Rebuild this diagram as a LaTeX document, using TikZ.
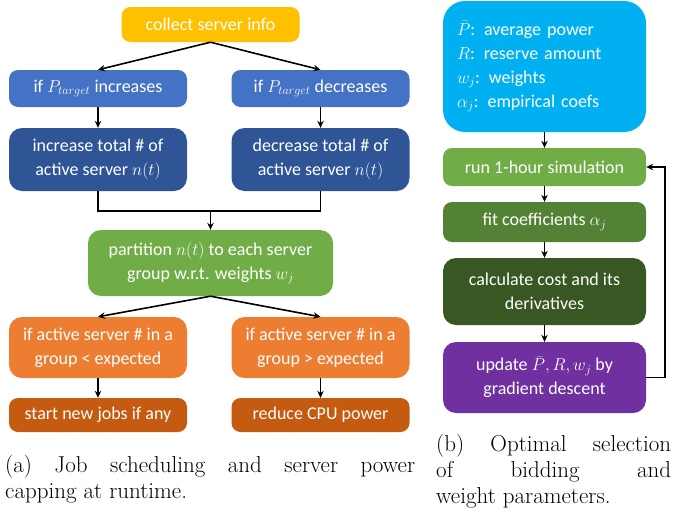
\documentclass[tikz,border=0pt]{standalone}
\usepackage{fontspec}
\newfontfamily\boxfont{Carlito}
\usetikzlibrary{arrows.meta}

\definecolor{infoyellow}{HTML}{FFC000}
\definecolor{ifblue}{HTML}{4472C4}
\definecolor{actblue}{HTML}{2F5597}
\definecolor{partgreen}{HTML}{70AD47}
\definecolor{grporange}{HTML}{ED7D31}
\definecolor{actorange}{HTML}{C55A11}
\definecolor{parmblue}{HTML}{00B0F0}
\definecolor{fitgreen}{HTML}{548235}
\definecolor{costgreen}{HTML}{385723}
\definecolor{updpurple}{HTML}{7030A0}

\begin{document}
\begin{tikzpicture}[x=1pt,y=-1pt,>={Stealth[length=7pt,width=6.5pt]},
  box/.style={rounded corners=9pt, text=white, align=center, inner sep=0pt,
    font=\boxfont\fontsize{18}{24}\selectfont, minimum width=178pt},
  link/.style={draw,line width=1.6pt},
  capt/.style={anchor=north west, inner sep=0pt, align=justify, font=\fontsize{23}{26}\selectfont}]
\useasboundingbox (0,0) rectangle (673,515);

% (a) job scheduling at runtime
\node[box, fill=infoyellow, minimum height=35pt] (collect) at (210.5,24.5) {collect server info};
\node[box, fill=ifblue, minimum height=37pt] (inc) at (98,88.5) {if $P_{target}$ increases};
\node[box, fill=ifblue, minimum height=37pt] (dec) at (320.5,88.5) {if $P_{target}$ decreases};
\node[box, fill=actblue, minimum height=63pt, rounded corners=13pt] (incn) at (98,159.5) {increase total \# of\\active server $n(t)$};
\node[box, fill=actblue, minimum height=63pt, rounded corners=13pt] (decn) at (320.5,159.5) {decrease total \# of\\active server $n(t)$};
\coordinate (join) at (210.5,211);
\node[box, fill=partgreen, minimum width=245pt, minimum height=66pt, rounded corners=13pt] (part) at (210.5,263) {partition $n(t)$ to each server\\group w.r.t. weights $w_j$};
\node[box, fill=grporange, minimum height=61pt, rounded corners=13pt] (lt) at (98,347.5) {if active server \# in a\\group < expected};
\node[box, fill=grporange, minimum height=61pt, rounded corners=13pt] (gt) at (320.5,347.5) {if active server \# in a\\group > expected};
\node[box, fill=actorange, minimum height=34pt] (start) at (98,415) {start new jobs if any};
\node[box, fill=actorange, minimum height=34pt] (reduce) at (320.5,415) {reduce CPU power};

\path[link,->] (collect.south) -- (inc.north);
\path[link,->] (collect.south) -- (dec.north);
\path[link,->] (inc) -- (incn);
\path[link,->] (dec) -- (decn);
\path[link] (incn.south) |- (join) -| (decn.south);
\path[link,->] (join) -- (part.north);
\path[link,->] (part.south) -- (lt.north);
\path[link,->] (part.south) -- (gt.north);
\path[link,->] (lt) -- (start);
\path[link,->] (gt) -- (reduce);

\node[capt, text width=410pt] (capa) at (5,455) {(a) Job scheduling and server power\linebreak capping at runtime.};

% (b) parameter selection
\node[box, fill=parmblue, minimum width=203pt, minimum height=131pt, rounded corners=22pt, text width=175pt, align=left] (parm) at (544.5,66.5)
  {$\bar{P}$: average power\\$R$: reserve amount\\$w_j$: weights\\$\alpha_j$: empirical coefs};
\node[box, fill=partgreen, minimum width=203pt, minimum height=38pt] (sim) at (544.5,167) {run 1-hour simulation};
\node[box, fill=fitgreen, minimum width=203pt, minimum height=40pt] (fit) at (544.5,222) {fit coefficients $\alpha_j$};
\node[box, fill=costgreen, minimum width=203pt, minimum height=67pt, rounded corners=13pt] (cost) at (544.5,291.5) {calculate cost and its\\derivatives};
\node[box, fill=updpurple, minimum width=203pt, minimum height=71pt, rounded corners=13pt] (upd) at (544.5,377.5) {update $\bar{P},R,w_j$ by\\gradient descent};
\coordinate (back) at (665,377.5);

\path[link,->] (parm) -- (sim);
\path[link,->] (sim) -- (fit);
\path[link,->] (fit) -- (cost);
\path[link,->] (cost) -- (upd);
\path[link,->] (upd.east) -- (back) |- (sim.east);

\node[capt, text width=235pt] (capb) at (436,434) {(b) Optimal selection\linebreak of bidding and\linebreak weight parameters.};
\end{tikzpicture}
\end{document}
